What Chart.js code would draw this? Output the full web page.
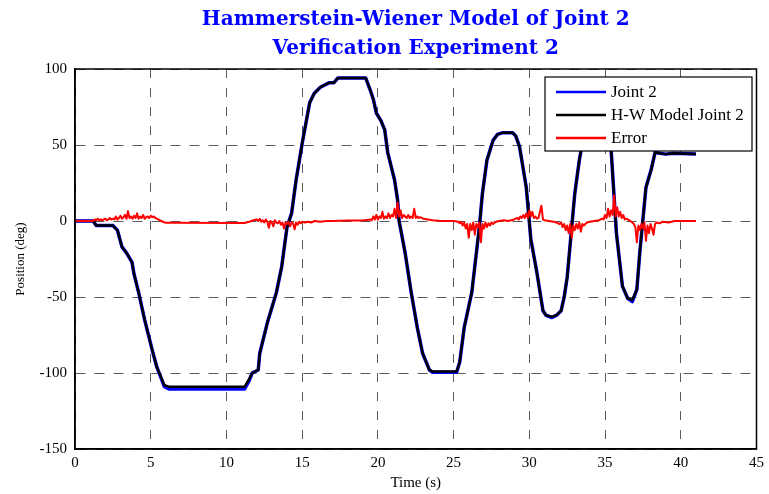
<!DOCTYPE html>
<html>
<head>
<meta charset="utf-8">
<title>Hammerstein-Wiener Model of Joint 2</title>
<script src="https://cdn.jsdelivr.net/npm/chart.js@4.4.1/dist/chart.umd.min.js"></script>
<style>
  html, body { margin: 0; padding: 0; background: #fff; }
  canvas { display: block; }
</style>
</head>
<body>
<canvas id="chart" width="769" height="494"></canvas>
<script>
// time samples (s) of the position traces
const posTime = [0, 1.2, 1.4, 2.5, 2.8, 3.1, 3.4, 3.76, 3.9, 4.2, 4.6, 5.1, 5.4, 5.9, 6.2, 11.2, 11.5, 11.7, 12.1, 12.2,
  12.7, 13.3, 13.65, 14.0, 14.3, 14.6, 15.0, 15.5, 15.8, 16.2, 16.8, 17.1, 17.35, 19.2, 19.5, 19.7, 19.9, 20.2, 20.45, 20.65,
  21.1, 21.3, 21.4, 21.8, 22.2, 22.6, 22.95, 23.4, 23.6, 25.2, 25.4, 25.7, 26.2, 26.7, 26.9, 27.2, 27.6, 27.9, 28.2, 28.9,
  29.1, 29.35, 29.8, 30.1, 30.5, 30.9, 31.1, 31.5, 31.8, 32.1, 32.3, 32.5, 33.0, 33.3, 33.5, 33.8, 34.1, 34.9, 35.2, 35.4,
  35.75, 36.15, 36.5, 36.8, 37.1, 37.3, 37.7, 38.05, 38.3, 39.0, 39.5, 41.0];

// measured joint 2 position (deg)
const joint2 = [0, 0, -3, -3, -6, -17, -21, -27, -35, -47, -65, -85, -96, -109, -110.5, -110.5, -105, -100, -98, -87,
  -67, -47, -30, -4, 5, 27, 51, 78, 84, 88, 91, 91, 94, 94, 86, 80, 71, 66, 60, 45,
  27, 14, 0, -21, -47, -70, -87, -98, -99.5, -99.5, -93, -70, -47, -4, 18, 40, 53, 57, 58, 58,
  56, 49, 22, -12, -34, -59, -62, -63.5, -62, -59, -50, -37, 18, 40, 51, 65, 72, 72, 60, 47,
  -8, -43, -51, -53, -45, -20, 22, 34, 45, 44, 44.5, 44];

// H-W model output (deg)
const hwModel = [0, 0, -3, -3, -6, -17, -21, -27, -35, -47, -65, -85, -96, -108, -109, -109, -104, -100, -98, -87,
  -67, -47, -30, -4, 5, 27, 51, 78, 84, 88, 91, 91, 94, 94, 86, 80, 71, 66, 60, 45,
  27, 14, 0, -21, -47, -70, -87, -98, -99, -99, -93, -70, -47, -4, 18, 40, 53, 57, 58, 58,
  56, 49, 22, -12, -34, -59, -62, -63, -62, -59, -50, -37, 18, 40, 51, 65, 72, 72, 60, 47,
  -8, -43, -51, -52, -45, -20, 22, 34, 45, 44, 44.5, 44];

// model error (deg)
const errTime = [0, 1.2, 1.3, 1.4, 1.5, 1.6, 1.7, 1.8, 1.9, 2.0, 2.1, 2.2, 2.3, 2.4, 2.5, 2.6, 2.7, 2.8, 2.9, 3.0,
  3.1, 3.2, 3.3, 3.4, 3.5, 3.6, 3.7, 3.8, 3.9, 4.0, 4.1, 4.2, 4.3, 4.4, 4.5, 4.6, 4.7, 4.8, 4.9, 5.0,
  5.1, 5.2, 5.3, 5.4, 5.6, 5.8, 6.0, 11.2, 11.5, 11.8, 12.0, 12.1, 12.2, 12.3, 12.4, 12.5, 12.6, 12.7, 12.8, 12.9,
  13.0, 13.1, 13.2, 13.3, 13.4, 13.5, 13.6, 13.7, 13.8, 13.9, 14.0, 14.1, 14.2, 14.3, 14.4, 14.5, 14.6, 14.7, 14.8, 14.9,
  15.0, 15.2, 15.4, 15.6, 15.8, 16.2, 16.6, 17.0, 18.0, 19.0, 19.5, 19.6, 19.7, 19.8, 19.9, 20.0, 20.1, 20.2, 20.3, 20.4,
  20.5, 20.6, 20.7, 20.8, 20.9, 21.0, 21.1, 21.2, 21.3, 21.4, 21.5, 21.6, 21.7, 21.8, 21.9, 22.0, 22.1, 22.2, 22.3, 22.4,
  22.5, 22.6, 22.7, 22.8, 23.0, 23.3, 23.6, 24.0, 24.5, 25.0, 25.3, 25.4, 25.5, 25.6, 25.7, 25.8, 25.9, 26.0, 26.1, 26.2,
  26.3, 26.4, 26.5, 26.6, 26.7, 26.8, 26.9, 27.0, 27.1, 27.2, 27.3, 27.4, 27.5, 27.6, 27.8, 28.0, 28.3, 28.6, 29.0, 29.2,
  29.3, 29.4, 29.5, 29.6, 29.7, 29.8, 29.9, 30.0, 30.1, 30.2, 30.3, 30.4, 30.5, 30.6, 30.8, 30.9, 31.0, 31.3, 31.6, 31.8,
  32.0, 32.1, 32.2, 32.3, 32.4, 32.5, 32.6, 32.7, 32.8, 32.9, 33.0, 33.1, 33.2, 33.3, 33.4, 33.5, 33.6, 33.8, 34.0, 34.3,
  34.6, 34.8, 34.9, 35.0, 35.1, 35.2, 35.3, 35.4, 35.5, 35.6, 35.7, 35.8, 35.9, 36.0, 36.1, 36.2, 36.3, 36.4, 36.6, 36.8,
  36.9, 37.0, 37.1, 37.2, 37.3, 37.4, 37.5, 37.6, 37.7, 37.8, 37.9, 38.0, 38.1, 38.2, 38.3, 38.4, 38.6, 38.8, 39.2, 39.6,
  40.0, 41.0];
const errValue = [0, 0, 1, 0.5, 1.5, 0.5, 1, 0.5, 1, 1.5, 0.5, 1, 2, 1, 1.5, 1, 3, 1, 2, 3.5,
  1.5, 2.5, 4, 1.5, 6.5, 2, 3, 1.5, 3.5, 2, 5, 1.5, 3, 2, 4, 1.5, 2.5, 3, 2, 3.5,
  2.5, 3, 2, 1.5, 0.5, -0.5, -1.2, -1.3, -0.5, 0.5, 1, 0, 1.5, -0.5, 0.5, -1, 1, -0.5, -4.5, 0,
  -1, -3.5, 0.5, -1, -1.5, 0, -2.5, -1, -5, -1, -2, -0.5, -3.5, -1, -1.5, -5.5, -1, -2.5, -0.5, -1.5,
  -0.5, -1, -0.5, -1, 0, -0.5, 0, 0, 0.3, 0.3, 1, 0.5, 3, 1, 4, 1, 3, 2, 6, 1.5,
  3, 2, 5, 2, 4, 3, 8, 2, 12, 3, 7, 2, 4, 3, 2, 4, 2, 3, 2, 8,
  2, 3, 2, 2.5, 1.5, 1, 0.5, 0.2, 0, 0, -0.5, -1.5, -0.5, -3, -1, -5, -2, -11, -2, -6,
  -1, -9, -2, -4, -1, -14, -2, -5, -1, -4, -1.5, -3, -1, -2, -0.5, 0, 0.5, 0, 1, 2,
  1, 3, 2, 4, 2, 5, 2, 7, 3, 6, 2, 3, 1.5, 2, 10, 1, 0.5, 0, -0.5, -1,
  -2, -1, -4, -2, -6, -3, -8, -2, -11, -3, -6, -2, -5, -1, -7, -2, -3, -1, -0.5, 0,
  0.5, 1.5, 1, 4, 2, 8, 3, 7, 4, 17, 3, 9, 3, 6, 2, 4, 1, 1.5, 0.5, -1,
  -2, -4, -14, -3, -6, -2, -5, -1, -13, -3, -8, -2, -5, -9, -2, -1, -1.5, -0.5, -1, 0,
  0, 0];

const seriesLabels = ["Joint 2", "H-W Model Joint 2", "Error"];
const titleLines = ["Hammerstein-Wiener Model of Joint 2", "Verification Experiment 2"];

const toPoints = (ts, vs) => ts.map((t, i) => ({ x: t, y: vs[i] }));

// frame around the plot area and a boxed legend drawn inside it
const frameAndLegend = {
  id: "frameAndLegend",
  afterDatasetsDraw(chart) {
    const { ctx, chartArea: a } = chart;
    ctx.save();
    ctx.strokeStyle = "#000";
    ctx.lineWidth = 1.5;
    ctx.strokeRect(a.left, a.top, a.right - a.left, a.bottom - a.top);

    const bx = 545, by = 77, bw = 207, bh = 74;
    ctx.fillStyle = "#fff";
    ctx.fillRect(bx, by, bw, bh);
    ctx.lineWidth = 1.2;
    ctx.strokeRect(bx, by, bw, bh);
    ctx.font = "17px 'Liberation Serif'";
    ctx.textBaseline = "middle";
    chart.data.datasets.forEach((ds, i) => {
      const y = by + 15 + i * 23;
      ctx.strokeStyle = ds.borderColor;
      ctx.lineWidth = 2.5;
      ctx.beginPath();
      ctx.moveTo(bx + 11, y);
      ctx.lineTo(bx + 61, y);
      ctx.stroke();
      ctx.fillStyle = "#000";
      ctx.fillText(ds.label, bx + 66, y + 1);
    });
    ctx.restore();
  }
};

const gridStyle = {
  color: "#5a5a5a",
  lineWidth: 1,
  drawTicks: false
};

new Chart(document.getElementById("chart"), {
  type: "line",
  data: {
    datasets: [
      {
        label: seriesLabels[0],
        data: toPoints(posTime, joint2),
        borderColor: "#0000ff",
        borderWidth: 3.5,
        order: 3
      },
      {
        label: seriesLabels[1],
        data: toPoints(posTime, hwModel),
        borderColor: "#000000",
        borderWidth: 2.5,
        order: 2
      },
      {
        label: seriesLabels[2],
        data: toPoints(errTime, errValue),
        borderColor: "#ff0000",
        borderWidth: 2,
        order: 1
      }
    ]
  },
  options: {
    responsive: false,
    animation: false,
    devicePixelRatio: 1,
    elements: {
      point: { radius: 0 },
      line: { tension: 0, borderJoinStyle: "round" }
    },
    layout: { padding: { left: 0, right: 12, top: 0, bottom: 0 } },
    scales: {
      x: {
        type: "linear",
        min: 0,
        max: 45,
        ticks: { stepSize: 5, color: "#000", padding: 5, font: { family: "Liberation Serif", size: 15 } },
        grid: gridStyle,
        border: { display: true, color: "#000", width: 1.5, dash: [9, 10] },
        title: {
          display: true,
          text: "Time (s)",
          color: "#000",
          font: { family: "Liberation Serif", size: 15 },
          padding: { top: 0, bottom: 2 }
        },
        afterFit: (s) => { s.height = 45; }
      },
      y: {
        min: -150,
        max: 100,
        ticks: { stepSize: 50, color: "#000", padding: 8, font: { family: "Liberation Serif", size: 15 } },
        grid: gridStyle,
        border: { display: true, color: "#000", width: 1.5, dash: [10, 9] },
        title: {
          display: true,
          text: "Position (deg)",
          color: "#000",
          font: { family: "Liberation Serif", size: 13 },
          padding: { top: 13, bottom: 0 }
        },
        afterFit: (s) => { s.width = 75; }
      }
    },
    plugins: {
      legend: { display: false },
      tooltip: { enabled: false },
      title: {
        display: true,
        fullSize: false,
        text: titleLines,
        color: "#0000ff",
        font: { family: "DejaVu Serif", size: 20, weight: "bold", lineHeight: 1.45 },
        padding: { top: 5, bottom: 6 }
      }
    }
  },
  plugins: [frameAndLegend]
});
</script>
</body>
</html>
